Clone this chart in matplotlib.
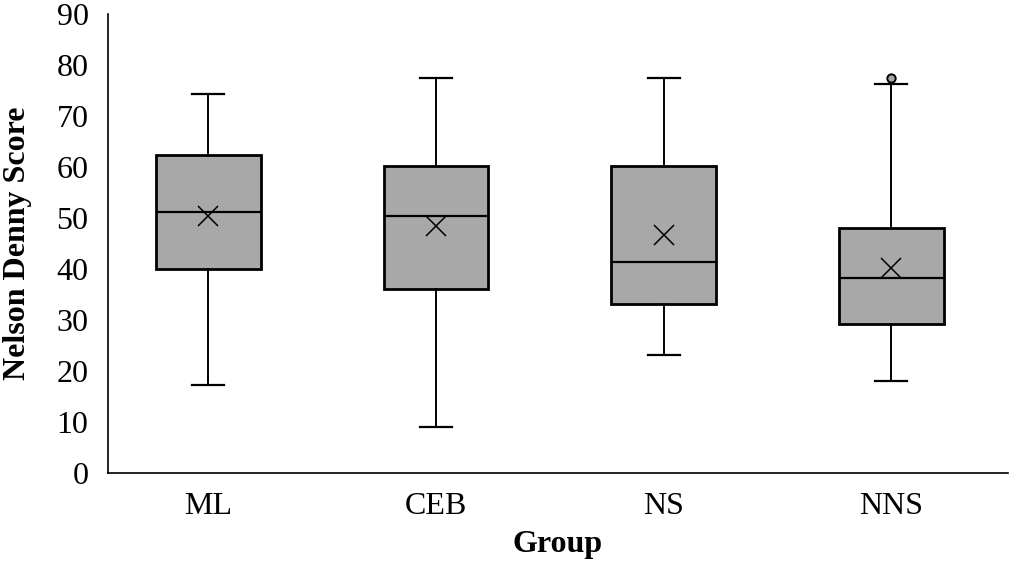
import matplotlib
matplotlib.use("Agg")
import matplotlib.pyplot as plt

plt.rcParams['font.family'] = ['Liberation Serif', 'DejaVu Serif']

groups = ['ML', 'CEB', 'NS', 'NNS']
whisker_low = [17.2, 9.0, 23.2, 18.0]
quart1 = [40.0, 36.1, 33.1, 29.2]
medians = [51.2, 50.3, 41.4, 38.3]
quart3 = [62.3, 60.2, 60.2, 48.1]
whisker_high = [74.4, 77.5, 77.4, 76.2]
means = [50.3, 48.5, 46.6, 40.1]
outliers = [[], [], [], [77.5]]

stats = []
for i, name in enumerate(groups):
    stats.append({
        'label': name,
        'whislo': whisker_low[i],
        'q1': quart1[i],
        'med': medians[i],
        'q3': quart3[i],
        'whishi': whisker_high[i],
        'mean': means[i],
        'fliers': outliers[i],
    })

fig = plt.figure(figsize=(10.13, 5.74), dpi=100)
ax = fig.add_axes([0.1066, 0.176, 0.888, 0.7996])

ax.bxp(stats, positions=range(1, len(groups) + 1), widths=0.46,
       patch_artist=True, showmeans=True, capwidths=0.14,
       boxprops=dict(facecolor='#a8a8a8', edgecolor='black', linewidth=2.0),
       medianprops=dict(color='black', linewidth=1.6),
       whiskerprops=dict(color='black', linewidth=1.4),
       capprops=dict(color='black', linewidth=1.6),
       meanprops=dict(marker='x', markersize=14, markeredgecolor='black',
                      markeredgewidth=1.1),
       flierprops=dict(marker='o', markersize=6, markerfacecolor='#a8a8a8',
                       markeredgecolor='black', markeredgewidth=1.4))

ax.set_xlim(0.56, 4.51)
ax.set_ylim(0, 90)
ax.set_yticks(range(0, 91, 10))
ax.tick_params(axis='both', length=0, labelsize=23)
ax.tick_params(axis='y', pad=14)
ax.tick_params(axis='x', pad=14)

for side in ['top', 'right']:
    ax.spines[side].set_visible(False)
for side in ['left', 'bottom']:
    ax.spines[side].set_linewidth(1.2)

ax.set_ylabel('Nelson Denny Score', fontsize=23, fontweight='bold', labelpad=18)
ax.set_xlabel('Group', fontsize=23, fontweight='bold', labelpad=6)

fig.savefig('out.png', dpi=100)
